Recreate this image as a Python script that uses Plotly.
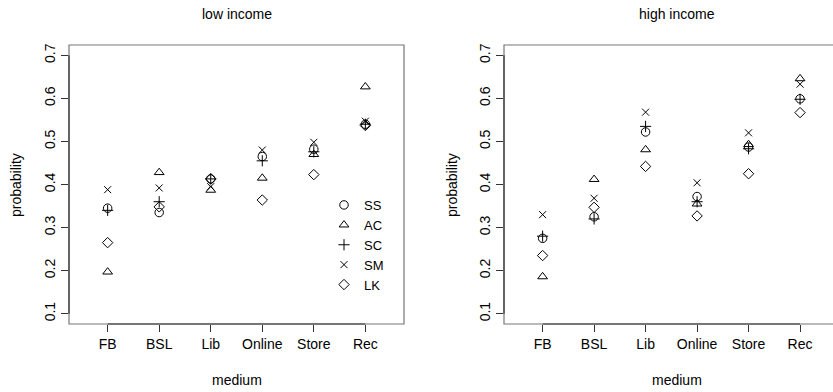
import plotly.graph_objects as go

media = ["FB", "BSL", "Lib", "Online", "Store", "Rec"]
groups = ["SS", "AC", "SC", "SM", "LK"]
y_ticks = [0.1, 0.2, 0.3, 0.4, 0.5, 0.6, 0.7]

# low income
low_SS = [0.345, 0.335, 0.413, 0.465, 0.482, 0.540]
low_AC = [0.197, 0.428, 0.387, 0.415, 0.470, 0.627]
low_SC = [0.340, 0.360, 0.413, 0.455, 0.476, 0.540]
low_SM = [0.388, 0.392, 0.395, 0.480, 0.498, 0.547]
low_LK = [0.265, 0.348, 0.413, 0.364, 0.423, 0.537]

# high income
high_SS = [0.275, 0.325, 0.522, 0.372, 0.487, 0.599]
high_AC = [0.186, 0.412, 0.481, 0.355, 0.493, 0.646]
high_SC = [0.280, 0.320, 0.535, 0.360, 0.483, 0.598]
high_SM = [0.330, 0.368, 0.568, 0.404, 0.520, 0.633]
high_LK = [0.235, 0.347, 0.442, 0.327, 0.425, 0.567]

low = [low_SS, low_AC, low_SC, low_SM, low_LK]
high = [high_SS, high_AC, high_SC, high_SM, high_LK]

symbols = ["circle-open", "triangle-up-open", "cross-thin-open", "x-thin-open", "diamond-open"]
sizes = [8.5, 8.5, 8, 7, 8]

FONT = "Liberation Sans, Arial, Helvetica, sans-serif"
xpos = list(range(1, len(media) + 1))

fig = go.Figure()
for i, g in enumerate(groups):
    fig.add_trace(go.Scatter(
        x=xpos, y=low[i], mode="markers", name=g,
        marker=dict(symbol=symbols[i], size=sizes[i], color="black",
                    line=dict(color="black", width=1)),
        xaxis="x", yaxis="y", showlegend=True, cliponaxis=False))
for i, g in enumerate(groups):
    fig.add_trace(go.Scatter(
        x=xpos, y=high[i], mode="markers", name=g,
        marker=dict(symbol=symbols[i], size=sizes[i], color="black",
                    line=dict(color="black", width=1)),
        xaxis="x2", yaxis="y2", showlegend=False, cliponaxis=False))

W, H = 833, 392
ml, mr, mt, mb = 69, 0, 45, 68
pw = W - ml - mr
ph = H - mt - mb
dom1 = [0, 335 / pw]
dom2 = [435 / pw, 1]

axis_common = dict(
    showgrid=False, zeroline=False, showline=False, automargin=False,
    ticks="outside", ticklen=7, tickwidth=1, tickcolor="#333333",
    tickfont=dict(family=FONT, size=14, color="black"),
)

fig.update_layout(
    width=W, height=H,
    margin=dict(l=ml, r=mr, t=mt, b=mb, pad=0, autoexpand=False),
    plot_bgcolor="white", paper_bgcolor="white",
    font=dict(family=FONT, size=14, color="black"),
    xaxis=dict(domain=dom1, range=[0.25, 6.75], tickvals=xpos, ticktext=media, anchor="y", **axis_common),
    yaxis=dict(domain=[0, 1], range=[0.076, 0.724], tickvals=y_ticks,
               ticktext=[str(v) for v in y_ticks], tickangle=-90, anchor="x", **axis_common),
    xaxis2=dict(domain=dom2, range=[0.25, 6.64], tickvals=xpos, ticktext=media, anchor="y2", **axis_common),
    yaxis2=dict(domain=[0, 1], range=[0.076, 0.724], tickvals=y_ticks,
                ticktext=[str(v) for v in y_ticks], tickangle=-90, anchor="x2", **axis_common),
    legend=dict(x=(324 - ml) / pw, y=(324 - 190) / ph, xanchor="left", yanchor="top",
                bgcolor="rgba(0,0,0,0)", borderwidth=0,
                font=dict(family=FONT, size=13, color="black"),
                itemwidth=30, tracegroupgap=0),
    showlegend=True,
    hovermode=False,
)

shapes = []
for xa, ya in [("x", "y"), ("x2", "y2")]:
    shapes.append(dict(type="rect", xref=f"{xa} domain", yref=f"{ya} domain",
                       x0=0, x1=1 if xa == "x" else 1.05, y0=0, y1=1,
                       line=dict(color="#777777", width=1.2), layer="above"))
    shapes.append(dict(type="line", xref=f"{xa} domain", yref=ya, x0=0, x1=0,
                       y0=y_ticks[0], y1=y_ticks[-1], line=dict(color="#333333", width=1.2)))
    shapes.append(dict(type="line", xref=xa, yref=f"{ya} domain", x0=xpos[0], x1=xpos[-1],
                       y0=0, y1=0, line=dict(color="#333333", width=1.2)))
fig.update_layout(shapes=shapes)

annotations = []
for xa, title in [("x", "low income"), ("x2", "high income")]:
    cx = 0.5 if xa == "x" else 0.5 * 1.05
    annotations.append(dict(text=title, xref=f"{xa} domain", yref="paper",
                            x=cx, y=(324 - 14) / ph, showarrow=False,
                            xanchor="center", yanchor="middle", font=dict(size=14)))
    annotations.append(dict(text="medium", xref=f"{xa} domain", yref="paper",
                            x=cx, y=(324 - 380) / ph, showarrow=False,
                            xanchor="center", yanchor="middle", font=dict(size=14)))
for px in [16, 452]:
    annotations.append(dict(text="probability", xref="paper", yref="paper",
                            x=(px - ml) / pw, y=(324 - 185) / ph, showarrow=False, textangle=-90,
                            xanchor="center", yanchor="middle", font=dict(size=14)))
fig.update_layout(annotations=annotations)

fig.write_html("out.html", config={"displayModeBar": False},
               post_script="document.body.style.margin='0';document.body.style.overflow='hidden';")
